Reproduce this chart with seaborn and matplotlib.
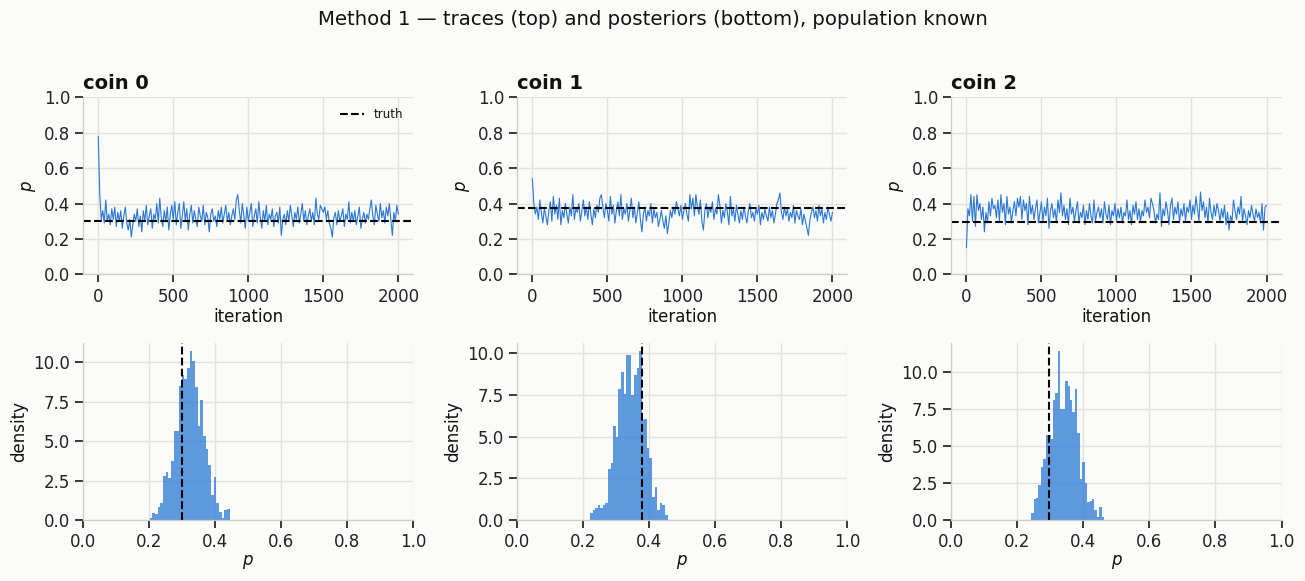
import numpy as np
import pandas as pd
import matplotlib
matplotlib.use("Agg")
import matplotlib.pyplot as plt
import seaborn as sns

# truth values per coin
coins = ["coin 0", "coin 1", "coin 2"]
truth = [0.30, 0.377, 0.295]

# trace values read every 10 iterations (0..2000)
iters = list(range(0, 2001, 10))
trace0 = [
    0.78, 0.45, 0.31, 0.36, 0.29, 0.42, 0.30, 0.34, 0.28, 0.37,
    0.31, 0.38, 0.27, 0.35, 0.30, 0.36, 0.26, 0.33, 0.38, 0.29,
    0.25, 0.31, 0.21, 0.28, 0.34, 0.30, 0.37, 0.27, 0.33, 0.24,
    0.36, 0.30, 0.39, 0.28, 0.33, 0.37, 0.26, 0.34, 0.31, 0.40,
    0.29, 0.43, 0.32, 0.27, 0.36, 0.30, 0.38, 0.25, 0.34, 0.39,
    0.31, 0.41, 0.28, 0.35, 0.40, 0.26, 0.33, 0.41, 0.30, 0.37,
    0.25, 0.34, 0.39, 0.29, 0.36, 0.31, 0.27, 0.38, 0.33, 0.30,
    0.39, 0.28, 0.35, 0.32, 0.24, 0.34, 0.37, 0.30, 0.33, 0.27,
    0.36, 0.31, 0.38, 0.29, 0.34, 0.39, 0.30, 0.35, 0.28, 0.33,
    0.37, 0.31, 0.42, 0.45, 0.36, 0.29, 0.40, 0.33, 0.26, 0.38,
    0.30, 0.35, 0.40, 0.27, 0.33, 0.37, 0.29, 0.41, 0.32, 0.26,
    0.36, 0.30, 0.39, 0.28, 0.34, 0.31, 0.37, 0.27, 0.33, 0.35,
    0.29, 0.38, 0.22, 0.31, 0.34, 0.28, 0.36, 0.30, 0.39, 0.33,
    0.27, 0.35, 0.31, 0.38, 0.29, 0.34, 0.40, 0.30, 0.36, 0.28,
    0.33, 0.37, 0.30, 0.35, 0.28, 0.43, 0.34, 0.31, 0.39, 0.37,
    0.35, 0.38, 0.31, 0.36, 0.29, 0.26, 0.21, 0.32, 0.35, 0.28,
    0.36, 0.30, 0.33, 0.37, 0.27, 0.34, 0.31, 0.41, 0.29, 0.35,
    0.30, 0.36, 0.28, 0.33, 0.38, 0.26, 0.31, 0.35, 0.29, 0.34,
    0.31, 0.37, 0.42, 0.33, 0.28, 0.39, 0.34, 0.30, 0.40, 0.32,
    0.36, 0.29, 0.38, 0.33, 0.40, 0.31, 0.22, 0.35, 0.30, 0.39,
    0.34,
]
trace1 = [
    0.54, 0.40, 0.34, 0.38, 0.31, 0.42, 0.35, 0.29, 0.37, 0.33,
    0.28, 0.36, 0.41, 0.30, 0.44, 0.34, 0.39, 0.31, 0.43, 0.28,
    0.36, 0.32, 0.40, 0.34, 0.29, 0.38, 0.33, 0.45, 0.31, 0.37,
    0.35, 0.40, 0.30, 0.36, 0.42, 0.33, 0.38, 0.31, 0.41, 0.34,
    0.28, 0.37, 0.32, 0.39, 0.35, 0.43, 0.45, 0.38, 0.32, 0.40,
    0.36, 0.30, 0.44, 0.34, 0.39, 0.29, 0.36, 0.41, 0.33, 0.45,
    0.31, 0.37, 0.34, 0.40, 0.30, 0.36, 0.43, 0.32, 0.38, 0.29,
    0.35, 0.41, 0.31, 0.24, 0.34, 0.38, 0.30, 0.36, 0.33, 0.40,
    0.29, 0.37, 0.32, 0.35, 0.27, 0.31, 0.36, 0.30, 0.26, 0.33,
    0.23, 0.29, 0.36, 0.32, 0.38, 0.34, 0.41, 0.37, 0.33, 0.39,
    0.31, 0.36, 0.40, 0.34, 0.30, 0.45, 0.37, 0.43, 0.33, 0.45,
    0.38, 0.34, 0.42, 0.30, 0.25, 0.36, 0.40, 0.32, 0.38, 0.35,
    0.41, 0.31, 0.37, 0.34, 0.45, 0.39, 0.29, 0.36, 0.32, 0.40,
    0.35, 0.28, 0.44, 0.33, 0.37, 0.30, 0.39, 0.34, 0.29, 0.36,
    0.31, 0.38, 0.33, 0.29, 0.36, 0.40, 0.32, 0.35, 0.30, 0.37,
    0.34, 0.39, 0.28, 0.35, 0.31, 0.37, 0.33, 0.30, 0.38, 0.32,
    0.36, 0.29, 0.34, 0.40, 0.42, 0.46, 0.35, 0.31, 0.38, 0.33,
    0.37, 0.30, 0.35, 0.32, 0.39, 0.29, 0.36, 0.33, 0.31, 0.37,
    0.28, 0.34, 0.30, 0.26, 0.22, 0.31, 0.35, 0.38, 0.32, 0.36,
    0.30, 0.39, 0.33, 0.37, 0.29, 0.35, 0.31, 0.38, 0.34, 0.30,
    0.35,
]
trace2 = [
    0.15, 0.37, 0.33, 0.45, 0.30, 0.44, 0.27, 0.45, 0.36, 0.40,
    0.31, 0.38, 0.24, 0.35, 0.29, 0.41, 0.33, 0.43, 0.37, 0.39,
    0.32, 0.42, 0.30, 0.45, 0.35, 0.40, 0.28, 0.44, 0.34, 0.38,
    0.29, 0.36, 0.41, 0.33, 0.43, 0.38, 0.44, 0.31, 0.42, 0.36,
    0.40, 0.28, 0.44, 0.34, 0.39, 0.31, 0.37, 0.42, 0.29, 0.35,
    0.41, 0.30, 0.38, 0.33, 0.43, 0.26, 0.36, 0.40, 0.32, 0.37,
    0.29, 0.42, 0.35, 0.46, 0.33, 0.39, 0.31, 0.37, 0.28, 0.43,
    0.34, 0.38, 0.30, 0.36, 0.41, 0.29, 0.35, 0.32, 0.39, 0.28,
    0.36, 0.31, 0.40, 0.33, 0.29, 0.42, 0.30, 0.35, 0.38, 0.32,
    0.37, 0.29, 0.41, 0.34, 0.31, 0.39, 0.28, 0.36, 0.33, 0.40,
    0.30, 0.37, 0.32, 0.38, 0.29, 0.35, 0.33, 0.42, 0.31, 0.36,
    0.28, 0.39, 0.34, 0.41, 0.31, 0.37, 0.30, 0.36, 0.33, 0.42,
    0.35, 0.38, 0.32, 0.43, 0.40, 0.36, 0.29, 0.34, 0.31, 0.46,
    0.27, 0.37, 0.33, 0.41, 0.36, 0.28, 0.39, 0.43, 0.31, 0.38,
    0.34, 0.41, 0.29, 0.37, 0.33, 0.40, 0.30, 0.38, 0.35, 0.42,
    0.31, 0.39, 0.34, 0.44, 0.37, 0.30, 0.465, 0.36, 0.41, 0.32,
    0.38, 0.29, 0.43, 0.35, 0.31, 0.39, 0.33, 0.40, 0.36, 0.30,
    0.37, 0.32, 0.39, 0.28, 0.35, 0.25, 0.33, 0.30, 0.42, 0.36,
    0.31, 0.38, 0.34, 0.44, 0.30, 0.37, 0.33, 0.28, 0.36, 0.32,
    0.39, 0.34, 0.30, 0.37, 0.32, 0.35, 0.29, 0.40, 0.25, 0.38,
    0.39,
]

# posterior histograms: 30 bins between lo and hi, density per bin
hist_lo = [0.201, 0.220, 0.2414]
hist_hi = [0.444, 0.455, 0.4626]
dens0 = [0.11, 0.42, 0.38, 0.80, 1.06, 2.82, 3.07, 2.67, 3.73, 5.66,
         5.66, 8.52, 9.19, 8.96, 9.65, 10.7, 10.1, 8.45, 5.95, 7.60,
         5.30, 4.50, 3.50, 1.60, 2.70, 1.06, 0.49, 0.10, 0.64, 0.68]
dens1 = [0.42, 0.58, 0.74, 0.92, 0.74, 0.92, 1.04, 3.05, 3.39, 5.66,
         4.98, 7.87, 8.86, 7.53, 9.86, 9.86, 7.51, 8.70, 9.08, 10.1,
         6.00, 6.07, 4.34, 3.74, 1.39, 1.95, 0.60, 1.00, 0.92, 0.30]
dens2 = [0.47, 1.42, 1.49, 2.36, 3.58, 4.12, 5.74, 5.74, 5.45, 8.11,
         8.60, 11.4, 7.48, 7.48, 9.39, 9.05, 8.11, 7.32, 8.85, 5.90,
         2.75, 3.92, 2.48, 1.19, 1.26, 1.42, 0.68, 0.23, 0.90, 0.23]

traces = [trace0, trace1, trace2]
denses = [dens0, dens1, dens2]

bg = "#fbfbf9"
blue = "#2a78d6"
sns.set_theme(style="whitegrid", context="notebook", rc={
    "figure.facecolor": bg,
    "axes.facecolor": bg,
    "grid.color": "#e4e1db",
    "axes.edgecolor": "#cfccc4",
    "axes.linewidth": 0.9,
    "xtick.bottom": True,
    "ytick.left": True,
    "xtick.color": "#222222",
    "ytick.color": "#222222",
    "xtick.labelsize": 12,
    "ytick.labelsize": 12,
    "text.color": "#111111",
    "axes.labelcolor": "#111111",
})
plt.rcParams["font.family"] = ["DejaVu Sans"]

fig, axes = plt.subplots(2, 3, figsize=(13.05, 5.81), dpi=100)
fig.subplots_adjust(left=0.0638, right=0.982, top=0.8325, bottom=0.105,
                    wspace=0.315, hspace=0.388)

for i in range(3):
    ax = axes[0, i]
    df = pd.DataFrame({"iteration": iters, "p": traces[i]})
    sns.lineplot(data=df, x="iteration", y="p", ax=ax, color=blue, lw=0.8)
    ax.axhline(truth[i], color="black", ls="--", lw=1.5, label="truth")
    ax.set_ylim(0, 1)
    ax.set_xlim(-100, 2100)
    ax.set_xticks([0, 500, 1000, 1500, 2000])
    ax.set_ylabel("$p$")
    ax.set_xlabel("iteration", labelpad=1.5)
    ax.set_title(coins[i], loc="left", fontweight="bold", fontsize=14)
    sns.despine(ax=ax)
    if i == 0:
        ax.legend(loc="upper right", frameon=False, fontsize=8.5)

    ax = axes[1, i]
    step = (hist_hi[i] - hist_lo[i]) / 30
    centers = [hist_lo[i] + step * (k + 0.5) for k in range(30)]
    hdf = pd.DataFrame({"p": centers, "density": denses[i]})
    sns.histplot(data=hdf, x="p", weights="density", bins=30,
                 binrange=(hist_lo[i], hist_hi[i]), ax=ax,
                 color=blue, alpha=0.75, linewidth=0)
    ax.axvline(truth[i], color="black", ls="--", lw=1.5)
    ax.set_xlim(0, 1)
    ax.set_xlabel("$p$", labelpad=1.5)
    ax.set_ylabel("density")
    sns.despine(ax=ax)

fig.suptitle("Method 1 \u2014 traces (top) and posteriors (bottom), population known",
             fontsize=14.2, y=0.982)
fig.savefig("out.png", dpi=100, facecolor=bg)
